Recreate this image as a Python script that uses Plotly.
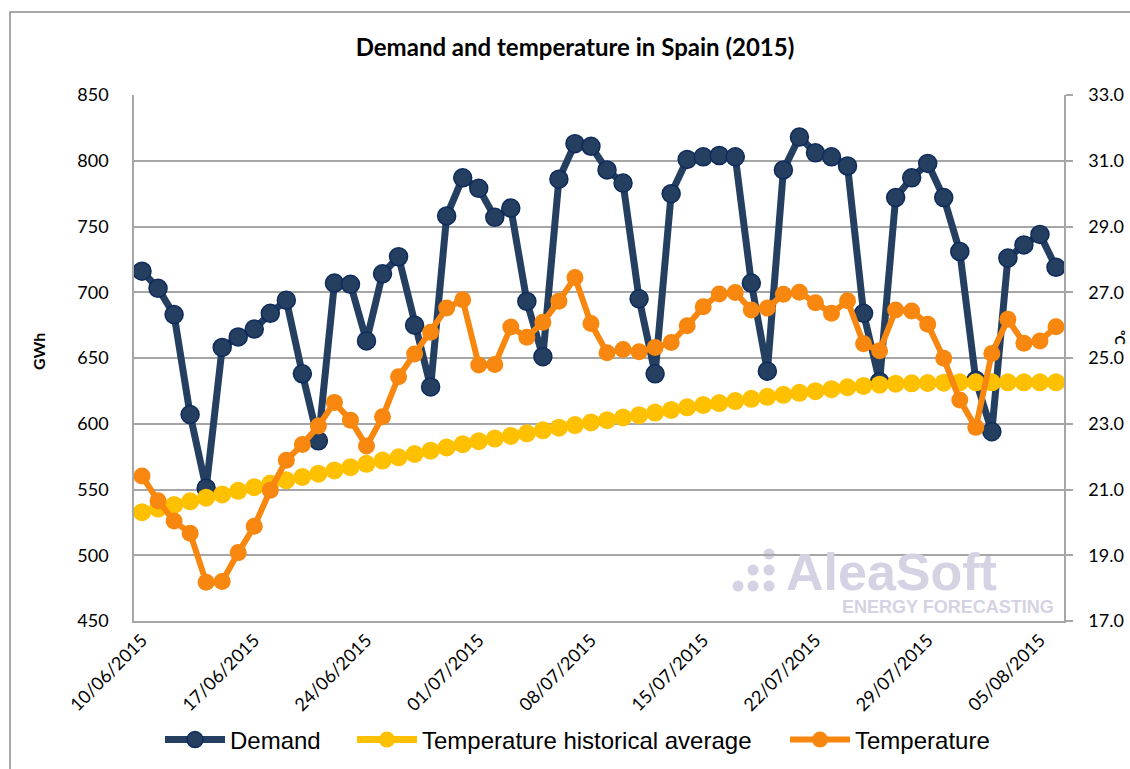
import pandas as pd
import plotly.graph_objects as go

# ---- data ----
start_date = "2015-06-10"
n_days = 58
dates = pd.date_range(start_date, periods=n_days, freq="D")

demand = [716, 703, 683, 607, 551, 658, 666, 672, 684, 694,
          638, 587, 707, 706, 663, 714, 727, 675, 628, 758,
          787, 779, 757, 764, 693, 651, 786, 813, 811, 793,
          783, 695, 638, 775, 801, 803, 804, 803, 707, 640,
          793, 818, 806, 803, 796, 684, 632, 772, 787, 798,
          772, 731, 633, 594, 726, 736, 744, 719]

temp_hist = [20.31, 20.42, 20.53, 20.64, 20.75, 20.85, 20.96, 21.07, 21.18, 21.28,
             21.38, 21.48, 21.58, 21.68, 21.78, 21.88, 21.98, 22.08, 22.18, 22.28,
             22.38, 22.47, 22.55, 22.63, 22.71, 22.80, 22.88, 22.96, 23.04, 23.11,
             23.19, 23.26, 23.34, 23.42, 23.50, 23.57, 23.63, 23.69, 23.76, 23.82,
             23.88, 23.94, 23.99, 24.05, 24.11, 24.15, 24.19, 24.22, 24.23, 24.24,
             24.25, 24.26, 24.26, 24.26, 24.26, 24.26, 24.26, 24.26]

temperature = [21.41, 20.66, 20.04, 19.67, 18.18, 18.20, 19.08, 19.88, 20.98, 21.89,
               22.37, 22.93, 23.65, 23.11, 22.32, 23.21, 24.43, 25.12, 25.78, 26.52,
               26.77, 24.79, 24.80, 25.94, 25.63, 26.09, 26.73, 27.45, 26.05, 25.16,
               25.26, 25.19, 25.32, 25.47, 25.98, 26.56, 26.95, 26.99, 26.46, 26.52,
               26.94, 27.00, 26.68, 26.36, 26.74, 25.43, 25.22, 26.46, 26.43, 26.03,
               24.99, 23.72, 22.89, 25.14, 26.18, 25.45, 25.52, 25.95]

tick_dates = pd.date_range(start_date, periods=9, freq="7D")
tick_text = [d.strftime("%d/%m/%Y") for d in tick_dates]

title_text = "Demand and temperature in Spain (2015)"
left_title = "GWh"
right_title = "ºC"
series_names = ["Demand", "Temperature historical average", "Temperature"]

# ---- styling ----
NAVY = "#243F60"
YELLOW = "#FFC000"
ORANGE = "#F7870F"
GRID = "#A6A6A6"
WM = "#D5D2E4"
AXFONT = "Lato, 'Open Sans', sans-serif"
LEGFONT = dict(family="Liberation Sans, Arial, sans-serif", size=24, color="#000000")

L, R, T, B = 134, 66, 95, 148
W, H = 1130, 769
pw, ph = W - L - R, H - T - B


def px(xp):
    return (xp - L) / pw


def py(yp):
    return (H - B - yp) / ph


fig = go.Figure()
fig.add_trace(go.Scatter(
    x=dates, y=demand, name=series_names[0], mode="lines+markers",
    legend="legend",
    line=dict(color=NAVY, width=7),
    marker=dict(size=18, color=NAVY, line=dict(color="#0E2B5C", width=1.5)),
))
fig.add_trace(go.Scatter(
    x=dates, y=temp_hist, name=series_names[1], mode="lines+markers",
    yaxis="y2", legend="legend2",
    line=dict(color=YELLOW, width=7),
    marker=dict(size=18, color=YELLOW),
))
fig.add_trace(go.Scatter(
    x=dates, y=temperature, name=series_names[2], mode="lines+markers",
    yaxis="y2", legend="legend3",
    line=dict(color=ORANGE, width=6),
    marker=dict(size=17, color=ORANGE),
))

x0 = dates[0] - pd.Timedelta(hours=12)
x1 = dates[-1] + pd.Timedelta(hours=12)

shapes = [
    dict(type="path", xref="paper", yref="paper",
         path=f"M {px(10)} {py(775)} L {px(10)} {py(12)} L {px(1135)} {py(12)}",
         line=dict(color="#8C8C8C", width=1.5)),
]
for (cx, cy) in [(769, 554), (753, 570), (769, 570), (738, 586), (753, 586), (769, 586)]:
    r = 5.5
    shapes.append(dict(type="circle", xref="paper", yref="paper",
                       x0=px(cx - r), x1=px(cx + r), y0=py(cy + r), y1=py(cy - r),
                       fillcolor=WM, line=dict(width=0), layer="below"))

annotations = [
    dict(text=f"<b>{left_title}</b>", xref="paper", yref="paper",
         x=px(38), y=py(352), xanchor="center", yanchor="middle",
         textangle=-90, showarrow=False,
         font=dict(family=AXFONT, size=16, color="#000000")),
    dict(text=f"<b>{right_title}</b>", xref="paper", yref="paper",
         x=px(1121), y=py(338), xanchor="center", yanchor="middle",
         textangle=90, showarrow=False,
         font=dict(family=AXFONT, size=14, color="#000000")),
    dict(text="<b>AleaSoft</b>", xref="paper", yref="paper",
         x=px(784), y=py(572), xanchor="left", yanchor="middle", showarrow=False,
         height=40, valign="middle",
         font=dict(family="Liberation Sans, Arial, sans-serif", size=52, color=WM)),
    dict(text="<b>ENERGY FORECASTING</b>", xref="paper", yref="paper",
         x=px(1056), y=py(607), xanchor="right", yanchor="middle", showarrow=False,
         height=14, valign="middle",
         font=dict(family="Liberation Sans, Arial, sans-serif", size=18, color=WM)),
]

legend_common = dict(orientation="h", yanchor="middle", y=py(740), xanchor="left",
                     font=LEGFONT, itemwidth=60, bgcolor="rgba(0,0,0,0)")

fig.update_layout(
    width=W, height=H,
    margin=dict(l=L, r=R, t=T, b=B, autoexpand=False),
    paper_bgcolor="white", plot_bgcolor="white",
    title=dict(text=f"<b>{title_text}</b>", x=575 / W, xref="container", xanchor="center",
               y=1 - 48 / H, yanchor="middle",
               font=dict(family=AXFONT, size=24, color="#000000")),
    xaxis=dict(type="date", range=[x0, x1], tickvals=list(tick_dates), ticktext=tick_text,
               tickangle=-45, showgrid=False, showline=True, linecolor=GRID, linewidth=1.5,
               ticks="", tickfont=dict(family=AXFONT, size=18, color="#000000")),
    yaxis=dict(range=[450, 850], dtick=50, showgrid=True, gridcolor=GRID, gridwidth=1.5,
               showline=True, linecolor=GRID, linewidth=1.5, ticks="",
               ticklabelstandoff=20, zeroline=False,
               tickfont=dict(family=AXFONT, size=18, color="#000000")),
    yaxis2=dict(range=[17, 33], tick0=17, dtick=2, tickformat=".1f", overlaying="y",
                side="right", showgrid=False, showline=True, linecolor=GRID, linewidth=1.5,
                ticks="outside", ticklen=7, tickcolor=GRID, tickwidth=1.5, zeroline=False,
                ticklabelstandoff=12,
                tickfont=dict(family=AXFONT, size=18, color="#000000")),
    legend=dict(x=px(160), **legend_common),
    legend2=dict(x=px(352), **legend_common),
    legend3=dict(x=px(785), **legend_common),
    shapes=shapes,
    annotations=annotations,
    showlegend=True,
)

fig.write_html("out.html", config={"displayModeBar": False},
               post_script="document.body.style.margin='0px';")
